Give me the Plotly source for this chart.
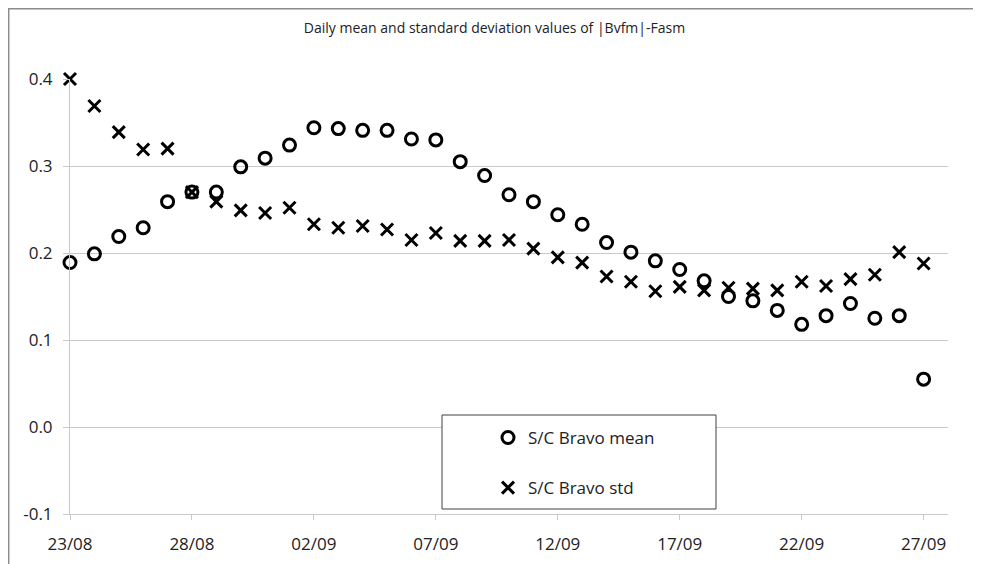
import plotly.graph_objects as go
import pandas as pd

# ---- data ----
dates = pd.date_range("2014-08-23", "2014-09-27", freq="D").strftime("%Y-%m-%d").tolist()

bravo_mean = [0.189, 0.199, 0.219, 0.229, 0.259, 0.270, 0.270, 0.299, 0.309, 0.324,
              0.344, 0.343, 0.341, 0.341, 0.331, 0.330, 0.305, 0.289, 0.267, 0.259,
              0.244, 0.233, 0.212, 0.201, 0.191, 0.181, 0.168, 0.150, 0.145, 0.134,
              0.118, 0.128, 0.142, 0.125, 0.128, 0.055]

bravo_std = [0.400, 0.369, 0.339, 0.319, 0.320, 0.270, 0.259, 0.249, 0.246, 0.252,
             0.233, 0.229, 0.231, 0.227, 0.215, 0.223, 0.214, 0.214, 0.215, 0.205,
             0.195, 0.189, 0.173, 0.167, 0.156, 0.161, 0.157, 0.160, 0.159, 0.157,
             0.167, 0.162, 0.170, 0.175, 0.201, 0.188]

x_tick_vals = ["2014-08-23", "2014-08-28", "2014-09-02", "2014-09-07",
               "2014-09-12", "2014-09-17", "2014-09-22", "2014-09-27"]
x_tick_text = ["23/08", "28/08", "02/09", "07/09", "12/09", "17/09", "22/09", "27/09"]

y_tick_vals = [-0.1, 0.0, 0.1, 0.2, 0.3, 0.4]
y_tick_text = ["-0.1", "0.0", "0.1", "0.2", "0.3", "0.4"]

title_text = "Daily mean and standard deviation values of |Bvfm|-Fasm"
series_names = ["S/C Bravo mean", "S/C Bravo std"]

FONT = "Open Sans"
GRID = "#c9c9c9"
TXT = "#222222"

fig = go.Figure()
fig.add_trace(go.Scatter(
    x=dates, y=bravo_mean, mode="markers", name=series_names[0], legendgroup="a",
    cliponaxis=False,
    marker=dict(symbol="circle-open", size=12, color="black", line=dict(width=3, color="black")),
))
fig.add_trace(go.Scatter(
    x=dates, y=bravo_std, mode="markers", name=series_names[1], legendgroup="b",
    cliponaxis=False,
    marker=dict(symbol="x-thin-open", size=12, color="black", line=dict(width=3, color="black")),
))

# page has an 8px body margin: figure origin sits at page (8, 8)
OFF = 8
W, H = 981 - OFF, 564 - OFF
L, R, T, B = 70 - OFF, 33, 79 - OFF, 50
pw, ph = W - L - R, H - T - B

def px_x(p):  # page pixel -> paper x
    return (p - OFF - L) / pw

def px_y(p):  # page pixel -> paper y
    return (H - B - (p - OFF)) / ph

fig.update_layout(
    width=W, height=H,
    margin=dict(l=L, r=R, t=T, b=B, autoexpand=False),
    paper_bgcolor="white", plot_bgcolor="white",
    font=dict(family=FONT, size=14, color=TXT),
    title=dict(text=title_text, x=0.5, xanchor="center", y=1 - (28 - OFF) / H, yanchor="middle",
               font=dict(family=FONT, size=14, color=TXT)),
    showlegend=True,
    legend=dict(
        x=px_x(488), y=px_y(420), xanchor="left", yanchor="top",
        bgcolor="rgba(0,0,0,0)", borderwidth=0,
        traceorder="grouped", tracegroupgap=25,
        font=dict(family=FONT, size=17, color=TXT),
    ),
    xaxis=dict(
        type="date",
        range=["2014-08-23", "2014-09-28"],
        tickvals=x_tick_vals, ticktext=x_tick_text,
        showgrid=False, zeroline=False, automargin=False,
        showline=True, linecolor=GRID, linewidth=1,
        ticks="outside", ticklen=5, tickcolor=GRID,
        ticklabelstandoff=10,
        tickfont=dict(family=FONT, size=17, color=TXT),
    ),
    yaxis=dict(
        range=[-0.1, 0.4],
        tickvals=y_tick_vals, ticktext=y_tick_text,
        showgrid=True, gridcolor=GRID, gridwidth=1,
        zeroline=False, automargin=False,
        showline=True, linecolor=GRID, linewidth=1,
        ticks="outside", ticklen=6, tickcolor=GRID,
        ticklabelstandoff=7,
        tickfont=dict(family=FONT, size=17, color=TXT),
    ),
    shapes=[
        # outer chart border (extends past right/bottom edges)
        dict(type="rect", xref="paper", yref="paper",
             x0=px_x(8.7), x1=px_x(1000), y0=px_y(600), y1=px_y(8.7),
             line=dict(color="#8c8c8c", width=1.5), fillcolor="rgba(0,0,0,0)", layer="below"),
        # legend box
        dict(type="rect", xref="paper", yref="paper",
             x0=px_x(442), x1=px_x(716), y0=px_y(509), y1=px_y(415),
             line=dict(color="#404040", width=1), fillcolor="white", layer="above"),
    ],
)

fig.write_html("out.html")
